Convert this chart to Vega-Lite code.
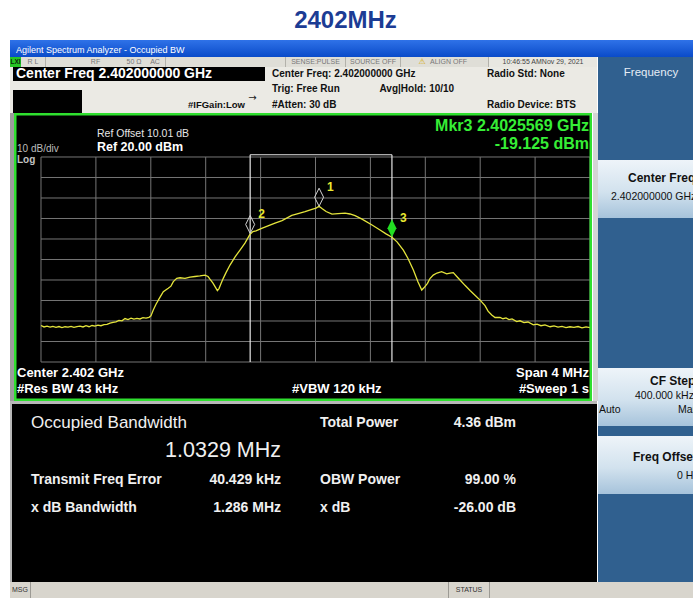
{
"$schema": "https://vega.github.io/schema/vega-lite/v6.json",
"background": "#ffffff",
"padding": {"left": 10, "top": 0, "right": 0, "bottom": 0},
"spacing": 0,
"config": {"view": {"stroke": null}, "text": {"font": "Liberation Sans"}},
"datasets": {
  "one": [{}],
  "none": [],
  "trace": [
{"f":2400.000,"dbm":-62.2},{"f":2400.022,"dbm":-62.9},{"f":2400.044,"dbm":-62.5},{"f":2400.066,"dbm":-63.0},{"f":2400.087,"dbm":-62.6},{"f":2400.109,"dbm":-63.1},{"f":2400.131,"dbm":-62.7},{"f":2400.153,"dbm":-63.2},{"f":2400.175,"dbm":-62.8},{"f":2400.197,"dbm":-63.0},{"f":2400.219,"dbm":-62.6},{"f":2400.240,"dbm":-63.1},{"f":2400.262,"dbm":-62.7},{"f":2400.284,"dbm":-62.5},{"f":2400.306,"dbm":-62.9},{"f":2400.328,"dbm":-62.3},{"f":2400.350,"dbm":-62.8},{"f":2400.372,"dbm":-62.2},{"f":2400.393,"dbm":-62.5},{"f":2400.415,"dbm":-62.0},{"f":2400.437,"dbm":-62.3},{"f":2400.459,"dbm":-61.8},{"f":2400.481,"dbm":-61.6},{"f":2400.503,"dbm":-61.0},{"f":2400.525,"dbm":-60.7},{"f":2400.546,"dbm":-60.4},{"f":2400.568,"dbm":-59.7},{"f":2400.590,"dbm":-59.9},{"f":2400.612,"dbm":-58.8},{"f":2400.634,"dbm":-59.3},{"f":2400.656,"dbm":-58.6},{"f":2400.677,"dbm":-59.1},{"f":2400.699,"dbm":-58.7},{"f":2400.721,"dbm":-59.0},{"f":2400.743,"dbm":-58.4},{"f":2400.765,"dbm":-58.6},{"f":2400.787,"dbm":-58.2},{"f":2400.801,"dbm":-57.5},{"f":2400.818,"dbm":-54.6},{"f":2400.838,"dbm":-51.8},{"f":2400.860,"dbm":-49.2},{"f":2400.891,"dbm":-45.7},{"f":2400.927,"dbm":-44.0},{"f":2400.947,"dbm":-43.0},{"f":2400.964,"dbm":-40.8},{"f":2400.989,"dbm":-39.2},{"f":2401.013,"dbm":-38.9},{"f":2401.049,"dbm":-39.2},{"f":2401.086,"dbm":-38.6},{"f":2401.122,"dbm":-38.3},{"f":2401.158,"dbm":-38.0},{"f":2401.195,"dbm":-37.6},{"f":2401.217,"dbm":-38.3},{"f":2401.231,"dbm":-39.6},{"f":2401.253,"dbm":-41.5},{"f":2401.268,"dbm":-43.2},{"f":2401.285,"dbm":-45.2},{"f":2401.297,"dbm":-44.2},{"f":2401.311,"dbm":-41.8},{"f":2401.328,"dbm":-39.2},{"f":2401.348,"dbm":-36.4},{"f":2401.377,"dbm":-32.7},{"f":2401.413,"dbm":-28.8},{"f":2401.450,"dbm":-25.4},{"f":2401.486,"dbm":-22.0},{"f":2401.522,"dbm":-17.8},{"f":2401.544,"dbm":-16.4},{"f":2401.566,"dbm":-16.0},{"f":2401.608,"dbm":-14.8},{"f":2401.654,"dbm":-13.6},{"f":2401.705,"dbm":-12.3},{"f":2401.756,"dbm":-11.0},{"f":2401.827,"dbm":-8.5},{"f":2401.873,"dbm":-7.6},{"f":2401.924,"dbm":-6.6},{"f":2401.974,"dbm":-5.5},{"f":2402.004,"dbm":-4.9},{"f":2402.026,"dbm":-4.0},{"f":2402.047,"dbm":-5.1},{"f":2402.077,"dbm":-6.6},{"f":2402.120,"dbm":-7.9},{"f":2402.164,"dbm":-7.6},{"f":2402.215,"dbm":-7.4},{"f":2402.251,"dbm":-7.8},{"f":2402.288,"dbm":-8.6},{"f":2402.339,"dbm":-10.3},{"f":2402.412,"dbm":-13.2},{"f":2402.470,"dbm":-15.6},{"f":2402.514,"dbm":-17.5},{"f":2402.557,"dbm":-19.1},{"f":2402.594,"dbm":-21.4},{"f":2402.640,"dbm":-25.4},{"f":2402.674,"dbm":-29.5},{"f":2402.713,"dbm":-35.1},{"f":2402.747,"dbm":-41.0},{"f":2402.774,"dbm":-44.9},{"f":2402.790,"dbm":-43.8},{"f":2402.816,"dbm":-41.6},{"f":2402.834,"dbm":-39.3},{"f":2402.858,"dbm":-37.6},{"f":2402.885,"dbm":-36.6},{"f":2402.919,"dbm":-35.9},{"f":2402.956,"dbm":-37.0},{"f":2402.980,"dbm":-36.6},{"f":2403.004,"dbm":-36.4},{"f":2403.031,"dbm":-38.4},{"f":2403.053,"dbm":-40.0},{"f":2403.089,"dbm":-42.6},{"f":2403.126,"dbm":-45.1},{"f":2403.162,"dbm":-47.4},{"f":2403.199,"dbm":-49.8},{"f":2403.235,"dbm":-52.5},{"f":2403.257,"dbm":-55.2},{"f":2403.284,"dbm":-57.1},{"f":2403.308,"dbm":-58.3},{"f":2403.344,"dbm":-58.2},{"f":2403.366,"dbm":-58.9},{"f":2403.388,"dbm":-58.5},{"f":2403.410,"dbm":-59.3},{"f":2403.432,"dbm":-59.0},{"f":2403.466,"dbm":-60.3},{"f":2403.490,"dbm":-59.9},{"f":2403.519,"dbm":-60.8},{"f":2403.548,"dbm":-60.5},{"f":2403.587,"dbm":-61.9},{"f":2403.614,"dbm":-61.5},{"f":2403.643,"dbm":-62.3},{"f":2403.672,"dbm":-61.9},{"f":2403.709,"dbm":-62.8},{"f":2403.738,"dbm":-62.4},{"f":2403.767,"dbm":-63.0},{"f":2403.796,"dbm":-62.6},{"f":2403.825,"dbm":-63.2},{"f":2403.854,"dbm":-62.8},{"f":2403.883,"dbm":-63.1},{"f":2403.913,"dbm":-62.7},{"f":2403.942,"dbm":-63.3},{"f":2403.971,"dbm":-62.9},{"f":2404.000,"dbm":-63.2}
  ],
  "markers": [
    {"mkr": "1", "f": 2402.026, "dbm": -4.0, "active": false},
    {"mkr": "2", "f": 2401.524, "dbm": -17.3, "active": false},
    {"mkr": "3", "f": 2402.5569, "dbm": -19.125, "active": true}
  ],
  "obw": [{"edge": "lower", "f": 2401.52398}, {"edge": "upper", "f": 2402.55688}],
  "hgrid": [{"v": 20}, {"v": 10}, {"v": 0}, {"v": -10}, {"v": -20}, {"v": -30}, {"v": -40}, {"v": -50}, {"v": -60}, {"v": -70}, {"v": -80}],
  "vgrid": [{"f": 2400}, {"f": 2400.4}, {"f": 2400.8}, {"f": 2401.2}, {"f": 2401.6}, {"f": 2402}, {"f": 2402.4}, {"f": 2402.8}, {"f": 2403.2}, {"f": 2403.6}, {"f": 2404}],
  "results": [
    {"name": "Occupied Bandwidth", "value": "1.0329 MHz", "c": "L", "r": 1, "vr": 2, "main": true},
    {"name": "Total Power", "value": "4.36 dBm", "c": "R", "r": 1, "vr": 1, "main": false},
    {"name": "Transmit Freq Error", "value": "40.429 kHz", "c": "L", "r": 3, "vr": 3, "main": false},
    {"name": "OBW Power", "value": "99.00 %", "c": "R", "r": 3, "vr": 3, "main": false},
    {"name": "x dB Bandwidth", "value": "1.286 MHz", "c": "L", "r": 4, "vr": 4, "main": false},
    {"name": "x dB", "value": "-26.00 dB", "c": "R", "r": 4, "vr": 4, "main": false}
  ],
  "header": [
    {"t": "Center Freq: 2.402000000 GHz", "c": "a", "l": 1},
    {"t": "Trig: Free Run", "c": "a", "l": 2},
    {"t": "#Atten: 30 dB", "c": "a", "l": 3},
    {"t": "Avg|Hold: 10/10", "c": "b", "l": 2},
    {"t": "Radio Std: None", "c": "c", "l": 1},
    {"t": "Radio Device: BTS", "c": "c", "l": 3}
  ]
},
"vconcat": [
  {"width": 683, "height": 40, "data": {"name": "one"},
   "mark": {"type": "text", "fontSize": 24, "fontWeight": "bold", "color": "#1c3c94", "baseline": "middle", "dx": -6, "dy": 1},
   "encoding": {"text": {"value": "2402MHz"}}},
  {"width": 683, "height": 17,
   "view": {"fill": {"gradient": "linear", "x1": 0, "y1": 0, "x2": 0, "y2": 1, "stops": [{"offset": 0, "color": "#2f72e8"}, {"offset": 1, "color": "#0a4bc9"}]}},
   "data": {"name": "one"},
   "mark": {"type": "text", "align": "left", "baseline": "middle", "dx": -335.5, "dy": 1, "fontSize": 9, "color": "#ffffff"},
   "encoding": {"text": {"value": "Agilent Spectrum Analyzer - Occupied BW"}}},
  {"hconcat": [
    {"vconcat": [
      {"hconcat": [
        {"width": 11, "height": 10, "view": {"fill": "#26c426"}, "data": {"name": "one"}, "mark": {"type": "text", "fontSize": 6.5, "fontWeight": "bold", "color": "#0a2a0a", "baseline": "middle"}, "encoding": {"text": {"value": "LXI"}}},
        {"width": 24, "height": 10, "view": {"fill": "#dfded7"}, "data": {"name": "one"}, "mark": {"type": "text", "fontSize": 7, "color": "#777777", "baseline": "middle"}, "encoding": {"text": {"value": "R L"}}},
        {"width": 1, "height": 10, "view": {"fill": "#b3b2ab"}, "data": {"name": "none"}, "mark": "text", "encoding": {"text": {"value": ""}}},
        {"width": 22, "height": 10, "view": {"fill": "#dfded7"}, "data": {"name": "none"}, "mark": "text", "encoding": {"text": {"value": ""}}},
        {"width": 55, "height": 10, "view": {"fill": "#dfded7"}, "data": {"name": "one"}, "mark": {"type": "text", "fontSize": 7, "color": "#777777", "baseline": "middle"}, "encoding": {"text": {"value": "RF"}}},
        {"width": 22, "height": 10, "view": {"fill": "#dfded7"}, "data": {"name": "one"}, "mark": {"type": "text", "fontSize": 7, "color": "#777777", "baseline": "middle"}, "encoding": {"text": {"value": "50 Ω"}}},
        {"width": 20, "height": 10, "view": {"fill": "#dfded7"}, "data": {"name": "one"}, "mark": {"type": "text", "fontSize": 7, "color": "#777777", "baseline": "middle"}, "encoding": {"text": {"value": "AC"}}},
        {"width": 1, "height": 10, "view": {"fill": "#b3b2ab"}, "data": {"name": "none"}, "mark": "text", "encoding": {"text": {"value": ""}}},
        {"width": 119, "height": 10, "view": {"fill": "#dfded7"}, "data": {"name": "none"}, "mark": "text", "encoding": {"text": {"value": ""}}},
        {"width": 1, "height": 10, "view": {"fill": "#b3b2ab"}, "data": {"name": "none"}, "mark": "text", "encoding": {"text": {"value": ""}}},
        {"width": 59, "height": 10, "view": {"fill": "#dfded7"}, "data": {"name": "one"}, "mark": {"type": "text", "fontSize": 7, "color": "#777777", "baseline": "middle"}, "encoding": {"text": {"value": "SENSE:PULSE"}}},
        {"width": 1, "height": 10, "view": {"fill": "#b3b2ab"}, "data": {"name": "none"}, "mark": "text", "encoding": {"text": {"value": ""}}},
        {"width": 54, "height": 10, "view": {"fill": "#dfded7"}, "data": {"name": "one"}, "mark": {"type": "text", "fontSize": 7, "color": "#777777", "baseline": "middle"}, "encoding": {"text": {"value": "SOURCE OFF"}}},
        {"width": 1, "height": 10, "view": {"fill": "#b3b2ab"}, "data": {"name": "none"}, "mark": "text", "encoding": {"text": {"value": ""}}},
        {"width": 87, "height": 10, "view": {"fill": "#dfded7"}, "layer": [
          {"data": {"name": "one"}, "mark": {"type": "text", "fontSize": 8, "font": "DejaVu Sans", "color": "#d4a800", "baseline": "middle", "dx": -22.5}, "encoding": {"text": {"value": "⚠"}}},
          {"data": {"name": "one"}, "mark": {"type": "text", "fontSize": 7, "color": "#777777", "baseline": "middle", "dx": 4}, "encoding": {"text": {"value": "ALIGN OFF"}}}
        ]},
        {"width": 1, "height": 10, "view": {"fill": "#b3b2ab"}, "data": {"name": "none"}, "mark": "text", "encoding": {"text": {"value": ""}}},
        {"width": 108, "height": 10, "view": {"fill": "#e8e7e1"}, "data": {"name": "one"}, "mark": {"type": "text", "fontSize": 7, "color": "#444444", "baseline": "middle"}, "encoding": {"text": {"value": "10:46:55 AMNov 29, 2021"}}}
      ], "spacing": 0},
      {"hconcat": [
        {"width": 3, "height": 46, "view": {"fill": "#ebeae4"}, "data": {"name": "none"}, "mark": "text", "encoding": {"text": {"value": ""}}},
        {"vconcat": [
          {"width": 252, "height": 14, "view": {"fill": "#000000"}, "data": {"name": "one"},
           "mark": {"type": "text", "fontSize": 14, "fontWeight": "bold", "color": "#ffffff", "align": "left", "baseline": "middle", "dx": -123},
           "encoding": {"text": {"value": "Center Freq 2.402000000 GHz"}}},
          {"width": 252, "height": 9, "view": {"fill": "#ebeae4"}, "data": {"name": "none"}, "mark": "text", "encoding": {"text": {"value": ""}}},
          {"hconcat": [
            {"width": 69, "height": 23, "view": {"fill": "#000000"}, "data": {"name": "none"}, "mark": "text", "encoding": {"text": {"value": ""}}},
            {"width": 183, "height": 23, "view": {"fill": "#ebeae4"}, "layer": [
              {"data": {"name": "one"}, "mark": {"type": "text", "fontSize": 9.5, "fontWeight": "bold", "color": "#111111", "align": "right", "baseline": "middle", "dx": 71.5, "dy": 3.5}, "encoding": {"text": {"value": "#IFGain:Low"}}},
              {"data": {"name": "one"}, "mark": {"type": "text", "fontSize": 10, "font": "DejaVu Sans", "color": "#222222", "baseline": "middle", "dx": 79, "dy": -4}, "encoding": {"text": {"value": "→"}}}
            ]}
          ], "spacing": 0}
        ], "spacing": 0},
        {"width": 332, "height": 46, "view": {"fill": "#ebeae4"}, "data": {"name": "header"},
         "mark": {"type": "text", "align": "left", "baseline": "middle", "fontSize": 10, "fontWeight": "bold", "color": "#111111"},
         "encoding": {
           "x": {"field": "c", "type": "nominal", "scale": {"type": "point", "domain": ["a", "b", "c"], "range": [7, 222], "padding": 0}, "axis": null},
           "y": {"field": "l", "type": "ordinal", "scale": {"type": "point", "domain": [1, 2, 3], "range": [6.5, 38], "padding": 0}, "axis": null},
           "text": {"field": "t"}}}
      ], "spacing": 0},
      {"hconcat": [
        {"width": 4, "height": 288, "view": {"fill": "#9c9c9c"}, "data": {"name": "none"}, "mark": "text", "encoding": {"text": {"value": ""}}},
        {"width": 578, "height": 288, "view": {"fill": "#000000"},
         "layer": [
          {"data": {"name": "hgrid"}, "mark": {"type": "rule", "color": "#757575", "strokeWidth": 1},
           "encoding": {
             "y": {"field": "v", "type": "quantitative", "scale": {"domain": [-99.0244, 41.4634], "nice": false, "zero": false},
                   "axis": {"orient": "left", "offset": -27, "values": [10, 0, -10, -20, -30, -40, -50, -60, -70], "labelExpr": "datum.value == 0 ? '0.00' : format(datum.value, '.1f')", "domain": false, "ticks": false, "grid": false, "title": null, "labelColor": "#9a9a9a", "labelFontSize": 9.5, "labelFont": "Liberation Sans", "labelPadding": 2, "labelBaseline": "middle", "labelOffset": -2}},
             "x": {"datum": 2400, "type": "quantitative", "scale": {"domain": [2399.80328, 2404.01457], "nice": false, "zero": false}, "axis": null},
             "x2": {"datum": 2404}}},
          {"data": {"name": "vgrid"}, "mark": {"type": "rule", "color": "#757575", "strokeWidth": 1},
           "encoding": {
             "x": {"field": "f", "type": "quantitative", "scale": {"domain": [2399.80328, 2404.01457], "nice": false, "zero": false}, "axis": null},
             "y": {"datum": 20, "type": "quantitative", "scale": {"domain": [-99.0244, 41.4634], "nice": false, "zero": false}, "axis": null},
             "y2": {"datum": -80}}},
          {"data": {"name": "obw"}, "mark": {"type": "rule", "color": "#e6e6e6", "strokeWidth": 1.2},
           "encoding": {
             "x": {"field": "f", "type": "quantitative", "scale": {"domain": [2399.80328, 2404.01457], "nice": false, "zero": false}, "axis": null},
             "y": {"datum": 21.1, "type": "quantitative", "scale": {"domain": [-99.0244, 41.4634], "nice": false, "zero": false}, "axis": null},
             "y2": {"datum": -80}}},
          {"data": {"name": "obw"}, "mark": {"type": "rule", "color": "#e6e6e6", "strokeWidth": 1.2},
           "encoding": {
             "x": {"aggregate": "min", "field": "f", "type": "quantitative", "scale": {"domain": [2399.80328, 2404.01457], "nice": false, "zero": false}, "axis": null},
             "x2": {"aggregate": "max", "field": "f"},
             "y": {"datum": 21.1, "type": "quantitative", "scale": {"domain": [-99.0244, 41.4634], "nice": false, "zero": false}, "axis": null}}},
          {"data": {"name": "trace"}, "mark": {"type": "line", "color": "#e4e43c", "strokeWidth": 1.3},
           "encoding": {
             "x": {"field": "f", "type": "quantitative", "scale": {"domain": [2399.80328, 2404.01457], "nice": false, "zero": false}, "axis": null},
             "y": {"field": "dbm", "type": "quantitative", "scale": {"domain": [-99.0244, 41.4634], "nice": false, "zero": false}, "axis": null}}},
          {"data": {"name": "markers"}, "transform": [{"filter": "!datum.active"}],
           "mark": {"type": "point", "shape": "M0,-1L0.25,-0.5L0,0L-0.25,-0.5Z", "size": 1296, "filled": false, "color": "#d4d4d4", "strokeWidth": 1, "opacity": 1},
           "encoding": {
             "x": {"field": "f", "type": "quantitative", "scale": {"domain": [2399.80328, 2404.01457], "nice": false, "zero": false}, "axis": null},
             "y": {"field": "dbm", "type": "quantitative", "scale": {"domain": [-99.0244, 41.4634], "nice": false, "zero": false}, "axis": null}}},
          {"data": {"name": "markers"}, "transform": [{"filter": "datum.active"}],
           "mark": {"type": "point", "shape": "M0,-1L0.25,-0.5L0,0L-0.25,-0.5Z", "size": 1296, "filled": true, "color": "#22dd22", "opacity": 1},
           "encoding": {
             "x": {"field": "f", "type": "quantitative", "scale": {"domain": [2399.80328, 2404.01457], "nice": false, "zero": false}, "axis": null},
             "y": {"field": "dbm", "type": "quantitative", "scale": {"domain": [-99.0244, 41.4634], "nice": false, "zero": false}, "axis": null}}},
          {"data": {"name": "markers"},
           "mark": {"type": "text", "align": "left", "baseline": "middle", "dx": 8, "dy": -19, "fontSize": 12, "fontWeight": "bold", "color": "#e8e830"},
           "encoding": {
             "x": {"field": "f", "type": "quantitative", "scale": {"domain": [2399.80328, 2404.01457], "nice": false, "zero": false}, "axis": null},
             "y": {"field": "dbm", "type": "quantitative", "scale": {"domain": [-99.0244, 41.4634], "nice": false, "zero": false}, "axis": null},
             "text": {"field": "mkr"}}},
          {"data": {"name": "one"}, "mark": {"type": "text", "align": "right", "baseline": "middle", "fontSize": 16, "fontWeight": "bold", "color": "#36ee36"},
           "encoding": {"x": {"datum": 2403.9927, "type": "quantitative", "scale": {"domain": [2399.80328, 2404.01457], "nice": false, "zero": false}, "axis": null}, "y": {"datum": 35.12, "type": "quantitative", "scale": {"domain": [-99.0244, 41.4634], "nice": false, "zero": false}, "axis": null}, "text": {"value": "Mkr3  2.4025569 GHz"}}},
          {"data": {"name": "one"}, "mark": {"type": "text", "align": "right", "baseline": "middle", "fontSize": 16, "fontWeight": "bold", "color": "#36ee36"},
           "encoding": {"x": {"datum": 2403.9927, "type": "quantitative", "scale": {"domain": [2399.80328, 2404.01457], "nice": false, "zero": false}, "axis": null}, "y": {"datum": 26.49, "type": "quantitative", "scale": {"domain": [-99.0244, 41.4634], "nice": false, "zero": false}, "axis": null}, "text": {"value": "-19.125 dBm"}}},
          {"data": {"name": "one"}, "mark": {"type": "text", "align": "left", "baseline": "middle", "fontSize": 10.5, "color": "#e6e6e6"},
           "encoding": {"x": {"datum": 2400.408, "type": "quantitative", "scale": {"domain": [2399.80328, 2404.01457], "nice": false, "zero": false}, "axis": null}, "y": {"datum": 31.22, "type": "quantitative", "scale": {"domain": [-99.0244, 41.4634], "nice": false, "zero": false}, "axis": null}, "text": {"value": "Ref Offset 10.01 dB"}}},
          {"data": {"name": "one"}, "mark": {"type": "text", "align": "left", "baseline": "middle", "fontSize": 12.5, "fontWeight": "bold", "color": "#ffffff"},
           "encoding": {"x": {"datum": 2400.408, "type": "quantitative", "scale": {"domain": [2399.80328, 2404.01457], "nice": false, "zero": false}, "axis": null}, "y": {"datum": 24.88, "type": "quantitative", "scale": {"domain": [-99.0244, 41.4634], "nice": false, "zero": false}, "axis": null}, "text": {"value": "Ref 20.00 dBm"}}},
          {"data": {"name": "one"}, "mark": {"type": "text", "align": "left", "baseline": "middle", "fontSize": 10, "color": "#bcbcbc"},
           "encoding": {"x": {"datum": 2399.8251, "type": "quantitative", "scale": {"domain": [2399.80328, 2404.01457], "nice": false, "zero": false}, "axis": null}, "y": {"datum": 23.9, "type": "quantitative", "scale": {"domain": [-99.0244, 41.4634], "nice": false, "zero": false}, "axis": null}, "text": {"value": "10 dB/div"}}},
          {"data": {"name": "one"}, "mark": {"type": "text", "align": "left", "baseline": "middle", "fontSize": 10, "fontWeight": "bold", "color": "#c4c4c4"},
           "encoding": {"x": {"datum": 2399.8251, "type": "quantitative", "scale": {"domain": [2399.80328, 2404.01457], "nice": false, "zero": false}, "axis": null}, "y": {"datum": 18.3, "type": "quantitative", "scale": {"domain": [-99.0244, 41.4634], "nice": false, "zero": false}, "axis": null}, "text": {"value": "Log"}}},
          {"data": {"name": "one"}, "mark": {"type": "text", "align": "left", "baseline": "middle", "fontSize": 13, "fontWeight": "bold", "color": "#ffffff"},
           "encoding": {"x": {"datum": 2399.8251, "type": "quantitative", "scale": {"domain": [2399.80328, 2404.01457], "nice": false, "zero": false}, "axis": null}, "y": {"datum": -85.37, "type": "quantitative", "scale": {"domain": [-99.0244, 41.4634], "nice": false, "zero": false}, "axis": null}, "text": {"value": "Center  2.402 GHz"}}},
          {"data": {"name": "one"}, "mark": {"type": "text", "align": "left", "baseline": "middle", "fontSize": 13, "fontWeight": "bold", "color": "#ffffff"},
           "encoding": {"x": {"datum": 2399.8251, "type": "quantitative", "scale": {"domain": [2399.80328, 2404.01457], "nice": false, "zero": false}, "axis": null}, "y": {"datum": -92.93, "type": "quantitative", "scale": {"domain": [-99.0244, 41.4634], "nice": false, "zero": false}, "axis": null}, "text": {"value": "#Res BW  43 kHz"}}},
          {"data": {"name": "one"}, "mark": {"type": "text", "align": "left", "baseline": "middle", "fontSize": 13, "fontWeight": "bold", "color": "#ffffff"},
           "encoding": {"x": {"datum": 2401.8288, "type": "quantitative", "scale": {"domain": [2399.80328, 2404.01457], "nice": false, "zero": false}, "axis": null}, "y": {"datum": -92.93, "type": "quantitative", "scale": {"domain": [-99.0244, 41.4634], "nice": false, "zero": false}, "axis": null}, "text": {"value": "#VBW  120 kHz"}}},
          {"data": {"name": "one"}, "mark": {"type": "text", "align": "right", "baseline": "middle", "fontSize": 13, "fontWeight": "bold", "color": "#ffffff"},
           "encoding": {"x": {"datum": 2403.9927, "type": "quantitative", "scale": {"domain": [2399.80328, 2404.01457], "nice": false, "zero": false}, "axis": null}, "y": {"datum": -85.37, "type": "quantitative", "scale": {"domain": [-99.0244, 41.4634], "nice": false, "zero": false}, "axis": null}, "text": {"value": "Span 4 MHz"}}},
          {"data": {"name": "one"}, "mark": {"type": "text", "align": "right", "baseline": "middle", "fontSize": 13, "fontWeight": "bold", "color": "#ffffff"},
           "encoding": {"x": {"datum": 2403.9927, "type": "quantitative", "scale": {"domain": [2399.80328, 2404.01457], "nice": false, "zero": false}, "axis": null}, "y": {"datum": -93.0, "type": "quantitative", "scale": {"domain": [-99.0244, 41.4634], "nice": false, "zero": false}, "axis": null}, "text": {"value": "#Sweep  1 s"}}},
          {"data": {"name": "one"}, "mark": {"type": "rect", "filled": false, "color": "#2fe02f", "strokeWidth": 5, "clip": true},
           "encoding": {"x": {"datum": 2399.80328, "type": "quantitative", "scale": {"domain": [2399.80328, 2404.01457], "nice": false, "zero": false}, "axis": null}, "x2": {"datum": 2404.01457}, "y": {"datum": -99.0244, "type": "quantitative", "scale": {"domain": [-99.0244, 41.4634], "nice": false, "zero": false}, "axis": null}, "y2": {"datum": 41.4634}}}
         ]},
        {"width": 5, "height": 288, "view": {"fill": "#d4d4d4"}, "data": {"name": "none"}, "mark": "text", "encoding": {"text": {"value": ""}}}
      ], "spacing": 0},
      {"width": 587, "height": 3, "view": {"fill": "#b8b8b8"}, "data": {"name": "none"}, "mark": "text", "encoding": {"text": {"value": ""}}},
      {"hconcat": [
        {"width": 2, "height": 178, "view": {"fill": "#b8b8b8"}, "data": {"name": "none"}, "mark": "text", "encoding": {"text": {"value": ""}}},
        {"width": 585, "height": 178, "view": {"fill": "#000000"}, "data": {"name": "results"},
         "layer": [
          {"transform": [{"filter": "!datum.main"}], "mark": {"type": "text", "align": "left", "baseline": "middle", "fontSize": 14, "fontWeight": "bold", "color": "#f0f0f0"},
           "encoding": {
             "x": {"field": "c", "type": "nominal", "scale": {"type": "point", "domain": ["L", "R"], "range": [19, 308], "padding": 0}, "axis": null},
             "y": {"field": "r", "type": "ordinal", "scale": {"type": "point", "domain": [1, 2, 3, 4], "range": [19, 104], "padding": 0}, "axis": null},
             "text": {"field": "name"}}},
          {"transform": [{"filter": "!datum.main"}], "mark": {"type": "text", "align": "right", "baseline": "middle", "fontSize": 14, "fontWeight": "bold", "color": "#f0f0f0"},
           "encoding": {
             "x": {"field": "c", "type": "nominal", "scale": {"type": "point", "domain": ["L", "R"], "range": [269, 504], "padding": 0}, "axis": null},
             "y": {"field": "vr", "type": "ordinal", "scale": {"type": "point", "domain": [1, 2, 3, 4], "range": [19, 104], "padding": 0}, "axis": null},
             "text": {"field": "value"}}},
          {"transform": [{"filter": "datum.main"}], "mark": {"type": "text", "align": "left", "baseline": "middle", "fontSize": 17, "color": "#f0f0f0"},
           "encoding": {
             "x": {"field": "c", "type": "nominal", "scale": {"type": "point", "domain": ["L", "R"], "range": [19, 308], "padding": 0}, "axis": null},
             "y": {"field": "r", "type": "ordinal", "scale": {"type": "point", "domain": [1, 2, 3, 4], "range": [19, 104], "padding": 0}, "axis": null},
             "text": {"field": "name"}}},
          {"transform": [{"filter": "datum.main"}], "mark": {"type": "text", "align": "right", "baseline": "middle", "fontSize": 21.5, "color": "#f0f0f0"},
           "encoding": {
             "x": {"field": "c", "type": "nominal", "scale": {"type": "point", "domain": ["L", "R"], "range": [269, 504], "padding": 0}, "axis": null},
             "y": {"field": "vr", "type": "ordinal", "scale": {"type": "point", "domain": [1, 2, 3, 4], "range": [19, 104], "padding": 0}, "axis": null},
             "text": {"field": "value"}}}
         ],
         "resolve": {"scale": {"x": "independent"}}}
      ], "spacing": 0}
    ], "spacing": 0},
    {"vconcat": [
      {"width": 96, "height": 103, "view": {"fill": "#30608f"}, "data": {"name": "one"},
       "mark": {"type": "text", "fontSize": 11.5, "color": "#e6edf5", "baseline": "middle", "dx": 5, "dy": -35.5},
       "encoding": {"text": {"value": "Frequency"}}},
      {"width": 96, "height": 58,
       "view": {"fill": {"gradient": "linear", "x1": 0, "y1": 0, "x2": 0, "y2": 1, "stops": [{"offset": 0, "color": "#eef4f9"}, {"offset": 0.55, "color": "#d2e2ee"}, {"offset": 1, "color": "#a6c3db"}]}},
       "layer": [
        {"data": {"name": "one"}, "mark": {"type": "text", "fontSize": 12, "fontWeight": "bold", "color": "#111111", "align": "left", "baseline": "middle", "dx": -18, "dy": -11, "clip": true}, "encoding": {"text": {"value": "Center Freq"}}},
        {"data": {"name": "one"}, "mark": {"type": "text", "fontSize": 10.5, "color": "#111111", "align": "left", "baseline": "middle", "dx": -35, "dy": 8, "clip": true}, "encoding": {"text": {"value": "2.402000000 GHz"}}}
       ]},
      {"width": 96, "height": 150, "view": {"fill": "#30608f"}, "data": {"name": "none"}, "mark": "text", "encoding": {"text": {"value": ""}}},
      {"width": 96, "height": 58,
       "view": {"fill": {"gradient": "linear", "x1": 0, "y1": 0, "x2": 0, "y2": 1, "stops": [{"offset": 0, "color": "#eef4f9"}, {"offset": 0.55, "color": "#d2e2ee"}, {"offset": 1, "color": "#a6c3db"}]}},
       "layer": [
        {"data": {"name": "one"}, "mark": {"type": "text", "fontSize": 12, "fontWeight": "bold", "color": "#111111", "align": "left", "baseline": "middle", "dx": 4, "dy": -16, "clip": true}, "encoding": {"text": {"value": "CF Step"}}},
        {"data": {"name": "one"}, "mark": {"type": "text", "fontSize": 10.5, "color": "#111111", "align": "left", "baseline": "middle", "dx": -11, "dy": -1, "clip": true}, "encoding": {"text": {"value": "400.000 kHz"}}},
        {"data": {"name": "one"}, "mark": {"type": "text", "fontSize": 10.5, "color": "#111111", "align": "left", "baseline": "middle", "dx": -47, "dy": 13, "clip": true}, "encoding": {"text": {"value": "Auto"}}},
        {"data": {"name": "one"}, "mark": {"type": "text", "fontSize": 10.5, "color": "#111111", "align": "left", "baseline": "middle", "dx": 32, "dy": 13, "clip": true}, "encoding": {"text": {"value": "Man"}}}
       ]},
      {"width": 96, "height": 10, "view": {"fill": "#30608f"}, "data": {"name": "none"}, "mark": "text", "encoding": {"text": {"value": ""}}},
      {"width": 96, "height": 58,
       "view": {"fill": {"gradient": "linear", "x1": 0, "y1": 0, "x2": 0, "y2": 1, "stops": [{"offset": 0, "color": "#eef4f9"}, {"offset": 0.55, "color": "#d2e2ee"}, {"offset": 1, "color": "#a6c3db"}]}},
       "layer": [
        {"data": {"name": "one"}, "mark": {"type": "text", "fontSize": 12, "fontWeight": "bold", "color": "#111111", "align": "left", "baseline": "middle", "dx": -13, "dy": -8, "clip": true}, "encoding": {"text": {"value": "Freq Offset"}}},
        {"data": {"name": "one"}, "mark": {"type": "text", "fontSize": 10.5, "color": "#111111", "align": "left", "baseline": "middle", "dx": 31, "dy": 11, "clip": true}, "encoding": {"text": {"value": "0 Hz"}}}
       ]},
      {"width": 96, "height": 88, "view": {"fill": "#30608f"}, "data": {"name": "none"}, "mark": "text", "encoding": {"text": {"value": ""}}}
    ], "spacing": 0}
  ], "spacing": 0},
  {"hconcat": [
    {"width": 20, "height": 16, "view": {"fill": "#d8d5cd"}, "data": {"name": "one"}, "mark": {"type": "text", "fontSize": 7, "color": "#333333", "baseline": "middle"}, "encoding": {"text": {"value": "MSG"}}},
    {"width": 1, "height": 16, "view": {"fill": "#9c9a94"}, "data": {"name": "none"}, "mark": "text", "encoding": {"text": {"value": ""}}},
    {"width": 417, "height": 16, "view": {"fill": "#d8d5cd"}, "data": {"name": "none"}, "mark": "text", "encoding": {"text": {"value": ""}}},
    {"width": 1, "height": 16, "view": {"fill": "#9c9a94"}, "data": {"name": "none"}, "mark": "text", "encoding": {"text": {"value": ""}}},
    {"width": 40, "height": 16, "view": {"fill": "#d8d5cd"}, "data": {"name": "one"}, "mark": {"type": "text", "fontSize": 7, "color": "#333333", "baseline": "middle"}, "encoding": {"text": {"value": "STATUS"}}},
    {"width": 1, "height": 16, "view": {"fill": "#9c9a94"}, "data": {"name": "none"}, "mark": "text", "encoding": {"text": {"value": ""}}},
    {"width": 203, "height": 16, "view": {"fill": "#d8d5cd"}, "data": {"name": "none"}, "mark": "text", "encoding": {"text": {"value": ""}}}
  ], "spacing": 0}
]
}
